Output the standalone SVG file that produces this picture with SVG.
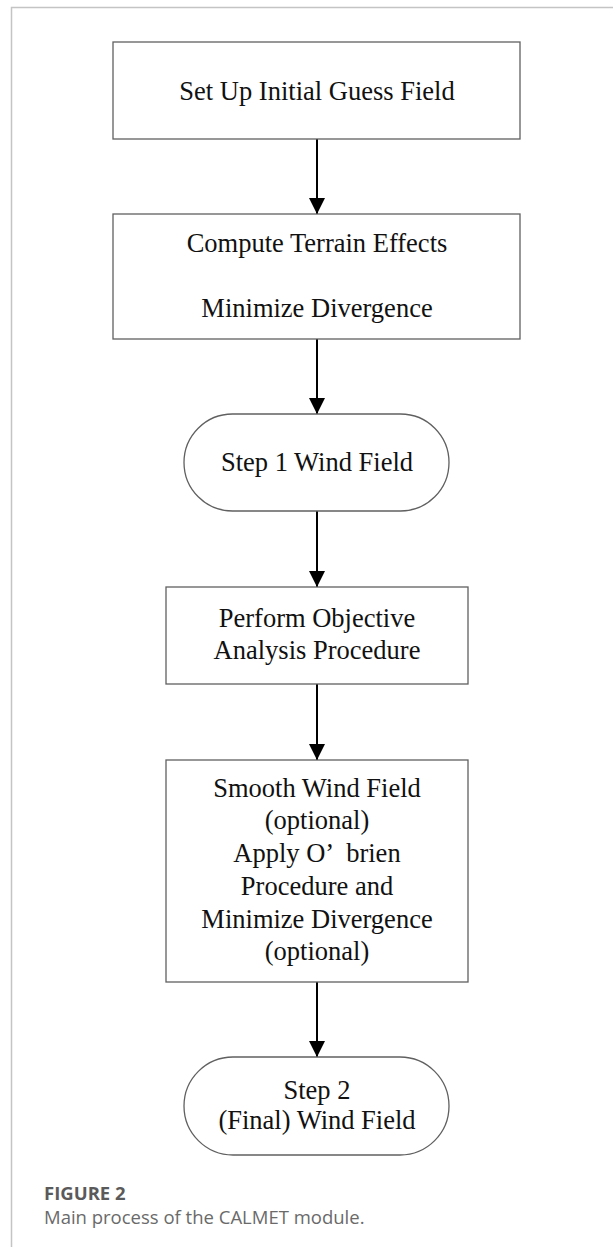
<svg xmlns="http://www.w3.org/2000/svg" width="613" height="1247" viewBox="0 0 613 1247">
<style>
.box{fill:#fff;stroke:#606060;stroke-width:1.3}
.t{font-family:"Liberation Serif","Times New Roman",serif;font-size:26.5px;fill:#111;text-anchor:middle}
.conn{stroke:#000;stroke-width:2;fill:none}
.frame{stroke:#c4c4c4;stroke-width:1.5;fill:none}
.cap1{font-family:"Open Sans",sans-serif;font-size:18.5px;font-weight:bold;fill:#5a5a5a}
.cap2{font-family:"Open Sans",sans-serif;font-size:18.5px;fill:#6a6a6a}
</style>
<defs>
<marker id="ah" markerUnits="userSpaceOnUse" markerWidth="16" markerHeight="17" refX="16" refY="8" orient="auto" viewBox="0 0 16 16">
<path d="M0,0 L16,8 L0,16 z" fill="#000"/>
</marker>
</defs>
<rect width="613" height="1247" fill="#fff"/>
<path class="frame" d="M613,7.5 H11.5 V1247"/>
<g id="connectors">
<line class="conn" x1="317" y1="139" x2="317" y2="214" marker-end="url(#ah)"/>
<line class="conn" x1="317" y1="339" x2="317" y2="414" marker-end="url(#ah)"/>
<line class="conn" x1="317" y1="511" x2="317" y2="587" marker-end="url(#ah)"/>
<line class="conn" x1="317" y1="684" x2="317" y2="760" marker-end="url(#ah)"/>
<line class="conn" x1="317" y1="982" x2="317" y2="1057" marker-end="url(#ah)"/>
</g>
<g id="n1">
<rect class="box" x="113" y="42" width="407" height="97"/>
<text class="t" x="317" y="100">Set Up Initial Guess Field</text>
</g>
<g id="n2">
<rect class="box" x="113" y="214" width="407" height="125"/>
<text class="t" x="317" y="252">Compute Terrain Effects</text>
<text class="t" x="317" y="317">Minimize Divergence</text>
</g>
<g id="n3">
<rect class="box" x="184" y="414" width="265" height="97" rx="48.5" ry="48.5"/>
<text class="t" x="317" y="471">Step 1 Wind Field</text>
</g>
<g id="n4">
<rect class="box" x="166" y="587" width="302" height="97"/>
<text class="t" x="317" y="627">Perform Objective</text>
<text class="t" x="317" y="659">Analysis Procedure</text>
</g>
<g id="n5">
<rect class="box" x="166" y="760" width="302" height="222"/>
<text class="t" x="317" y="797">Smooth Wind Field</text>
<text class="t" x="317" y="829">(optional)</text>
<text class="t" x="317" y="862">Apply O’<tspan dx="12">brien</tspan></text>
<text class="t" x="317" y="895">Procedure and</text>
<text class="t" x="317" y="928">Minimize Divergence</text>
<text class="t" x="317" y="960">(optional)</text>
</g>
<g id="n6">
<rect class="box" x="184" y="1057" width="265" height="98" rx="49" ry="49"/>
<text class="t" x="317" y="1099">Step 2</text>
<text class="t" x="317" y="1129">(Final) Wind Field</text>
</g>
<text class="cap1" x="44" y="1200">FIGURE 2</text>
<text class="cap2" x="44" y="1224">Main process of the CALMET module.</text>
</svg>
